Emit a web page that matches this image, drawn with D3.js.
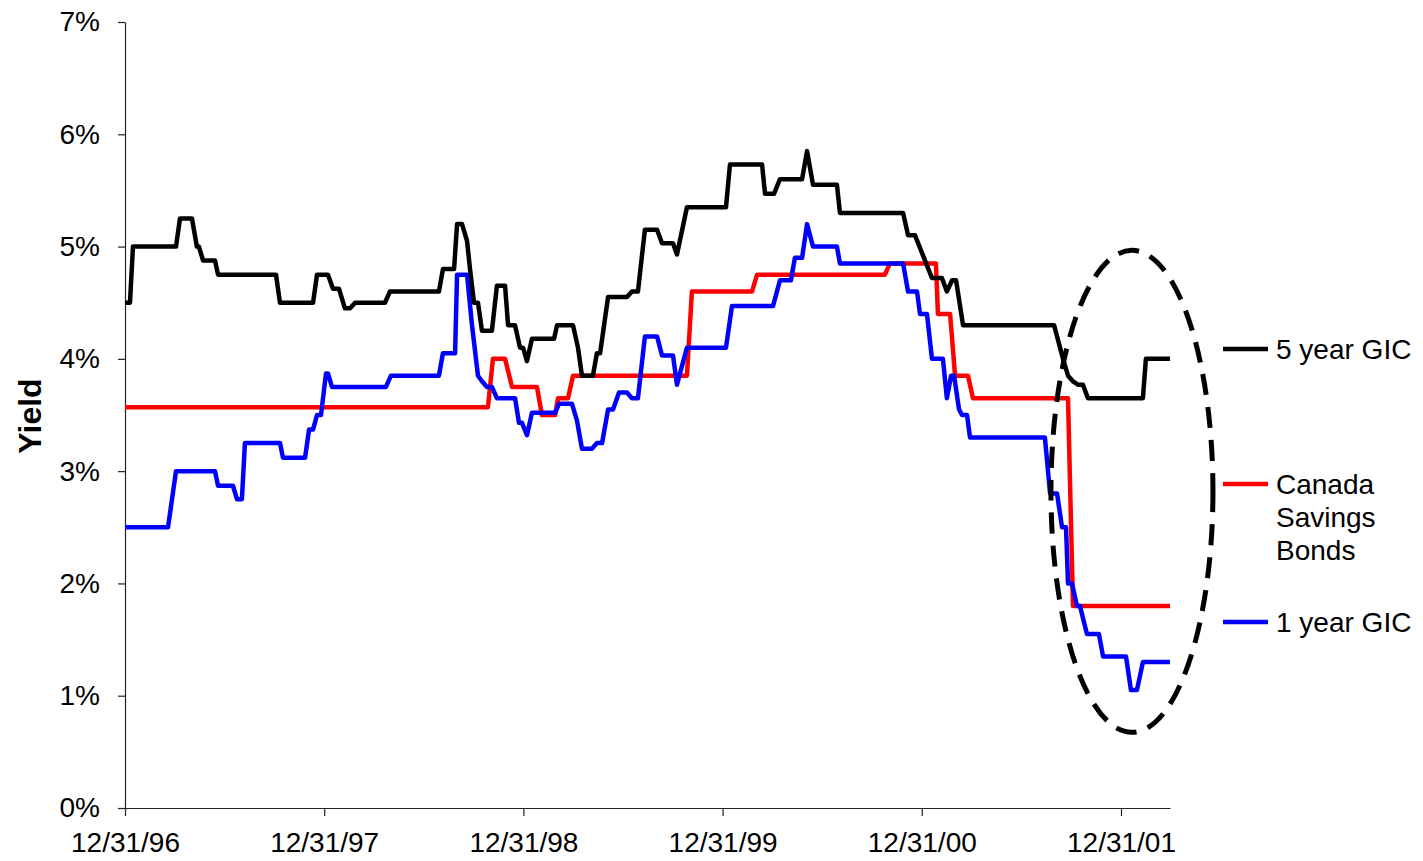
<!DOCTYPE html>
<html>
<head>
<meta charset="utf-8">
<script src="https://cdn.jsdelivr.net/npm/d3@7"></script>
<style>
  body { margin: 0; background: #fff; }
  text { font-family: Arial, "Liberation Sans", sans-serif; }
</style>
</head>
<body>
<div id="chart"></div>
<script>
// dates as decimal years (1997.000 = 12/31/96), yields in %
var gicFiveDates = [1997.000, 1997.025, 1997.040, 1997.256, 1997.276, 1997.336, 1997.361, 1997.371, 1997.392, 1997.452,
  1997.467, 1997.758, 1997.778, 1997.944, 1997.964, 1998.019, 1998.044, 1998.074, 1998.104, 1998.130,
  1998.155, 1998.305, 1998.330, 1998.576, 1998.596, 1998.652, 1998.667, 1998.692, 1998.717, 1998.732,
  1998.752, 1998.772, 1998.792, 1998.842, 1998.867, 1998.908, 1998.923, 1998.958, 1998.983, 1998.998,
  1999.018, 1999.043, 1999.154, 1999.169, 1999.249, 1999.274, 1999.294, 1999.349, 1999.369, 1999.385,
  1999.425, 1999.520, 1999.545, 1999.575, 1999.610, 1999.671, 1999.696, 1999.751, 1999.771, 1999.821,
  2000.017, 2000.037, 2000.198, 2000.213, 2000.258, 2000.288, 2000.399, 2000.424, 2000.454, 2000.574,
  2000.589, 2000.906, 2000.931, 2000.966, 2001.051, 2001.101, 2001.126, 2001.152, 2001.172, 2001.207,
  2001.664, 2001.709, 2001.734, 2001.759, 2001.784, 2001.809, 2001.834, 2002.110, 2002.125, 2002.246];
var gicFiveYield = [4.50, 4.50, 5.00, 5.00, 5.25, 5.25, 5.00, 5.00, 4.875, 4.875,
  4.75, 4.75, 4.50, 4.50, 4.75, 4.75, 4.625, 4.625, 4.45, 4.45,
  4.50, 4.50, 4.60, 4.60, 4.80, 4.80, 5.20, 5.20, 5.05, 4.80,
  4.50, 4.50, 4.25, 4.25, 4.65, 4.65, 4.30, 4.30, 4.10, 4.10,
  3.98, 4.18, 4.18, 4.30, 4.30, 4.10, 3.85, 3.85, 4.05, 4.05,
  4.55, 4.55, 4.60, 4.60, 5.15, 5.15, 5.03, 5.03, 4.93, 5.35,
  5.35, 5.73, 5.73, 5.47, 5.47, 5.60, 5.60, 5.85, 5.55, 5.55,
  5.30, 5.30, 5.10, 5.10, 4.72, 4.72, 4.60, 4.70, 4.70, 4.30,
  4.30, 4.00, 3.85, 3.80, 3.77, 3.77, 3.65, 3.65, 4.00, 4.00];

var csbDates = [1997.000, 1998.822, 1998.847, 1998.908, 1998.943, 1999.068, 1999.093, 1999.159, 1999.174, 1999.224,
  1999.249, 1999.821, 1999.846, 2000.148, 2000.173, 2000.815, 2000.840, 2001.071, 2001.081, 2001.142,
  2001.167, 2001.232, 2001.257, 2001.734, 2001.759, 2002.246];
var csbYield = [3.57, 3.57, 4.00, 4.00, 3.75, 3.75, 3.50, 3.50, 3.65, 3.65,
  3.85, 3.85, 4.60, 4.60, 4.75, 4.75, 4.85, 4.85, 4.40, 4.40,
  3.85, 3.85, 3.65, 3.65, 1.80, 1.80];

var gicOneDates = [1997.000, 1997.216, 1997.256, 1997.452, 1997.467, 1997.542, 1997.562, 1997.587, 1997.602, 1997.778,
  1997.793, 1997.904, 1997.924, 1997.944, 1997.964, 1997.984, 1998.009, 1998.019, 1998.039, 1998.310,
  1998.335, 1998.576, 1998.596, 1998.657, 1998.667, 1998.717, 1998.742, 1998.772, 1998.792, 1998.817,
  1998.842, 1998.867, 1998.958, 1998.978, 1998.993, 1999.018, 1999.043, 1999.159, 1999.179, 1999.244,
  1999.269, 1999.294, 1999.344, 1999.369, 1999.395, 1999.425, 1999.450, 1999.480, 1999.520, 1999.545,
  1999.575, 1999.610, 1999.671, 1999.696, 1999.751, 1999.771, 1999.821, 2000.017, 2000.047, 2000.253,
  2000.288, 2000.343, 2000.363, 2000.399, 2000.424, 2000.454, 2000.574, 2000.589, 2000.906, 2000.931,
  2000.976, 2000.991, 2001.026, 2001.051, 2001.106, 2001.126, 2001.147, 2001.162, 2001.187, 2001.202,
  2001.227, 2001.242, 2001.618, 2001.644, 2001.679, 2001.704, 2001.724, 2001.734, 2001.754, 2001.779,
  2001.794, 2001.829, 2001.889, 2001.910, 2002.025, 2002.050, 2002.080, 2002.110, 2002.246];
var gicOneYield = [2.50, 2.50, 3.00, 3.00, 2.87, 2.87, 2.75, 2.75, 3.25, 3.25,
  3.12, 3.12, 3.37, 3.37, 3.50, 3.50, 3.87, 3.87, 3.75, 3.75,
  3.85, 3.85, 4.05, 4.05, 4.75, 4.75, 4.30, 3.85, 3.80, 3.75,
  3.75, 3.65, 3.65, 3.43, 3.43, 3.32, 3.52, 3.52, 3.60, 3.60,
  3.45, 3.20, 3.20, 3.25, 3.25, 3.55, 3.55, 3.70, 3.70, 3.65,
  3.65, 4.20, 4.20, 4.03, 4.03, 3.77, 4.10, 4.10, 4.47, 4.47,
  4.70, 4.70, 4.90, 4.90, 5.20, 5.00, 5.00, 4.85, 4.85, 4.60,
  4.60, 4.40, 4.40, 4.00, 4.00, 3.65, 3.85, 3.85, 3.55, 3.50,
  3.50, 3.30, 3.30, 2.80, 2.80, 2.50, 2.50, 2.00, 2.00, 1.80,
  1.80, 1.55, 1.55, 1.35, 1.35, 1.05, 1.05, 1.30, 1.30];

var xTickValues = [1997, 1998, 1999, 2000, 2001, 2002];
var xTickLabels = ["12/31/96", "12/31/97", "12/31/98", "12/31/99", "12/31/00", "12/31/01"];
var yTickValues = [0, 1, 2, 3, 4, 5, 6, 7];

var seriesNames = [["5 year GIC"], ["Canada", "Savings", "Bonds"], ["1 year GIC"]];
var seriesColors = ["#000000", "#ff0000", "#0000ff"];

var svgWidth = 1423;
var svgHeight = 861;

var margin = {
  top: 22,
  right: 253,
  bottom: 53,
  left: 125
};

var width = svgWidth - margin.left - margin.right;
var height = svgHeight - margin.top - margin.bottom;

var svg = d3.select("#chart")
  .append("svg")
  .attr("width", svgWidth)
  .attr("height", svgHeight);

var chartGroup = svg.append("g")
  .attr("transform", `translate(${margin.left}, ${margin.top})`);

var xScale = d3.scaleLinear()
  .domain([1997, 2002.246])
  .range([0, width]);

var yScale = d3.scaleLinear()
  .domain([0, 7])
  .range([height, 0]);

// axes
var bottomAxis = d3.axisBottom(xScale)
  .tickValues(xTickValues)
  .tickFormat((d, i) => xTickLabels[i])
  .tickSizeInner(8)
  .tickSizeOuter(0)
  .tickPadding(16);

var leftAxis = d3.axisLeft(yScale)
  .tickValues(yTickValues)
  .tickFormat(d => d + "%")
  .tickSizeInner(7)
  .tickSizeOuter(0)
  .tickPadding(18);

var xAxis = chartGroup.append("g")
  .attr("transform", `translate(0, ${height})`)
  .call(bottomAxis);

var yAxis = chartGroup.append("g")
  .call(leftAxis);

[xAxis, yAxis].forEach(function(ax) {
  ax.selectAll("path, line").attr("stroke", "#222").attr("stroke-width", 1.2);
  ax.selectAll("text")
    .attr("fill", "#000")
    .style("font-size", "28px")
    .style("font-family", "Arial, 'Liberation Sans', sans-serif");
});

// y axis title
svg.append("text")
  .attr("transform", "rotate(-90)")
  .attr("x", -416)
  .attr("y", 41)
  .attr("text-anchor", "middle")
  .style("font-size", "32px")
  .style("font-weight", "bold")
  .text("Yield");

// lines
var lineGen = d3.line()
  .x(d => xScale(d[0]))
  .y(d => yScale(d[1]));

var seriesData = [
  d3.zip(gicFiveDates, gicFiveYield),
  d3.zip(csbDates, csbYield),
  d3.zip(gicOneDates, gicOneYield)
];

// draw order: red, blue, black on top
[1, 2, 0].forEach(function(i) {
  chartGroup.append("path")
    .datum(seriesData[i])
    .attr("d", lineGen)
    .attr("fill", "none")
    .attr("stroke", seriesColors[i])
    .attr("stroke-width", 4.5)
    .attr("stroke-linejoin", "round");
});

// dashed ellipse around the last months
chartGroup.append("ellipse")
  .attr("cx", xScale(2002.055))
  .attr("cy", yScale(2.82))
  .attr("rx", 81)
  .attr("ry", 241)
  .attr("fill", "none")
  .attr("stroke", "#000")
  .attr("stroke-width", 5)
  .attr("stroke-dasharray", "21 12");

// legend
var legendY = [349, 484, 622];
var legend = svg.append("g");

seriesNames.forEach(function(lines, i) {
  legend.append("line")
    .attr("x1", 1223)
    .attr("x2", 1268)
    .attr("y1", legendY[i])
    .attr("y2", legendY[i])
    .attr("stroke", seriesColors[i])
    .attr("stroke-width", 4.5);

  var label = legend.append("text")
    .attr("x", 1276)
    .attr("y", legendY[i])
    .style("font-size", "28px");

  lines.forEach(function(t, j) {
    label.append("tspan")
      .attr("x", 1276)
      .attr("dy", j === 0 ? "0.36em" : "1.18em")
      .text(t);
  });
});
</script>
</body>
</html>
